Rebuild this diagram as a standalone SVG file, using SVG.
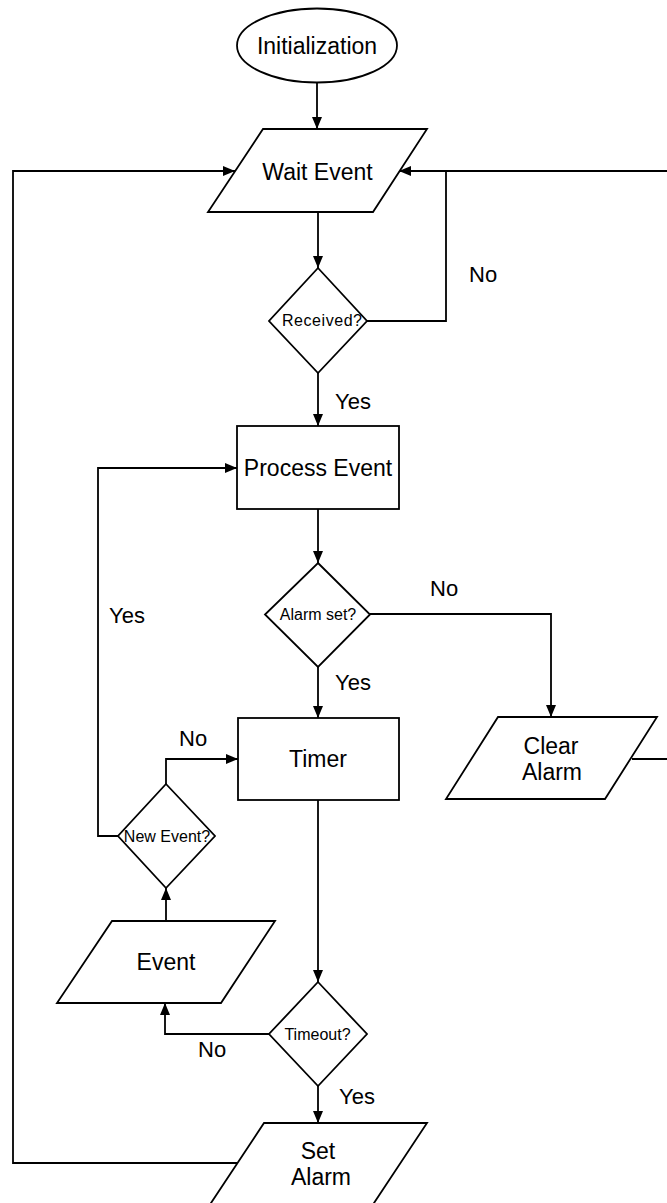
<svg xmlns="http://www.w3.org/2000/svg" width="667" height="1203" viewBox="0 0 667 1203">
  <style>
    .shape { fill: #ffffff; stroke: #000000; stroke-width: 1.8; }
    .edge { fill: none; stroke: #000000; stroke-width: 1.8; }
    .arrow { marker-end: url(#head); }
    .big { font-family: "Liberation Sans", Arial, sans-serif; font-size: 23px; fill: #000000; text-anchor: middle; }
    .small { font-family: "Liberation Sans", Arial, sans-serif; font-size: 16px; fill: #000000; text-anchor: middle; }
    .lbl { font-family: "Liberation Sans", Arial, sans-serif; font-size: 22px; fill: #000000; }
  </style>
  <defs>
    <marker id="head" viewBox="0 0 12 10" refX="12" refY="5" markerWidth="12" markerHeight="10" markerUnits="userSpaceOnUse" orient="auto">
      <path d="M0,0 L12,5 L0,10 z" fill="#000000"/>
    </marker>
  </defs>
  <rect width="667" height="1203" fill="#ffffff"/>

  <g id="connectors">
    <path class="edge arrow" d="M317,83 V129"/>
    <path class="edge arrow" d="M318,212 V268"/>
    <path class="edge" d="M367,321 H446 V171"/>
    <path class="edge arrow" d="M632,759 H700 V171 H399"/>
    <path class="edge arrow" d="M318,373 V426"/>
    <path class="edge arrow" d="M318,509 V563"/>
    <path class="edge arrow" d="M370,614 H551 V717"/>
    <path class="edge arrow" d="M318,667 V718"/>
    <path class="edge arrow" d="M318,800 V982"/>
    <path class="edge arrow" d="M269,1034 H165 V1003"/>
    <path class="edge arrow" d="M318,1086 V1123"/>
    <path class="edge arrow" d="M166,921 V888"/>
    <path class="edge arrow" d="M166,784 V759 H238"/>
    <path class="edge arrow" d="M118,836 H98 V468 H237"/>
    <path class="edge arrow" d="M237,1163 H13 V171 H235"/>
  </g>

  <g id="edge-labels">
    <text class="lbl" x="469" y="282">No</text>
    <text class="lbl" x="335" y="409">Yes</text>
    <text class="lbl" x="430" y="596">No</text>
    <text class="lbl" x="109" y="623">Yes</text>
    <text class="lbl" x="335" y="690">Yes</text>
    <text class="lbl" x="179" y="746">No</text>
    <text class="lbl" x="198" y="1057">No</text>
    <text class="lbl" x="339" y="1104">Yes</text>
  </g>

  <g id="initialization">
    <ellipse class="shape" cx="317" cy="45.5" rx="80" ry="37"/>
    <text class="big" x="317" y="53.5">Initialization</text>
  </g>

  <g id="wait-event">
    <polygon class="shape" points="263,129 427,129 373,212 208,212"/>
    <text class="big" x="317.5" y="179.5">Wait Event</text>
  </g>

  <g id="received">
    <polygon class="shape" points="318,268 367,321 318,373 269,321"/>
    <text class="small" x="322" y="326" textLength="80">Received?</text>
  </g>

  <g id="process-event">
    <rect class="shape" x="237" y="426" width="162" height="83"/>
    <text class="big" x="318" y="476">Process Event</text>
  </g>

  <g id="alarm-set">
    <polygon class="shape" points="318,563 370,614.5 318,667 265,614.5"/>
    <text class="small" x="318" y="620">Alarm set?</text>
  </g>

  <g id="clear-alarm">
    <polygon class="shape" points="498,717 657,717 605,799 446,799"/>
    <text class="big" x="551" y="754">Clear</text>
    <text class="big" x="552" y="780">Alarm</text>
  </g>

  <g id="timer">
    <rect class="shape" x="238" y="718" width="161" height="82"/>
    <text class="big" x="318" y="767">Timer</text>
  </g>

  <g id="new-event">
    <polygon class="shape" points="166,784 215,836 166,888 118,836"/>
    <text class="small" x="167" y="841.5">New Event?</text>
  </g>

  <g id="event">
    <polygon class="shape" points="112,921 275,921 221,1003 57,1003"/>
    <text class="big" x="166" y="969.5">Event</text>
  </g>

  <g id="timeout">
    <polygon class="shape" points="318,982 367,1034 318,1086 269,1034"/>
    <text class="small" x="317.5" y="1040">Timeout?</text>
  </g>

  <g id="set-alarm">
    <polygon class="shape" points="264,1123 427,1123 372,1206 209,1206"/>
    <text class="big" x="318" y="1159">Set</text>
    <text class="big" x="321" y="1184.5">Alarm</text>
  </g>
</svg>
